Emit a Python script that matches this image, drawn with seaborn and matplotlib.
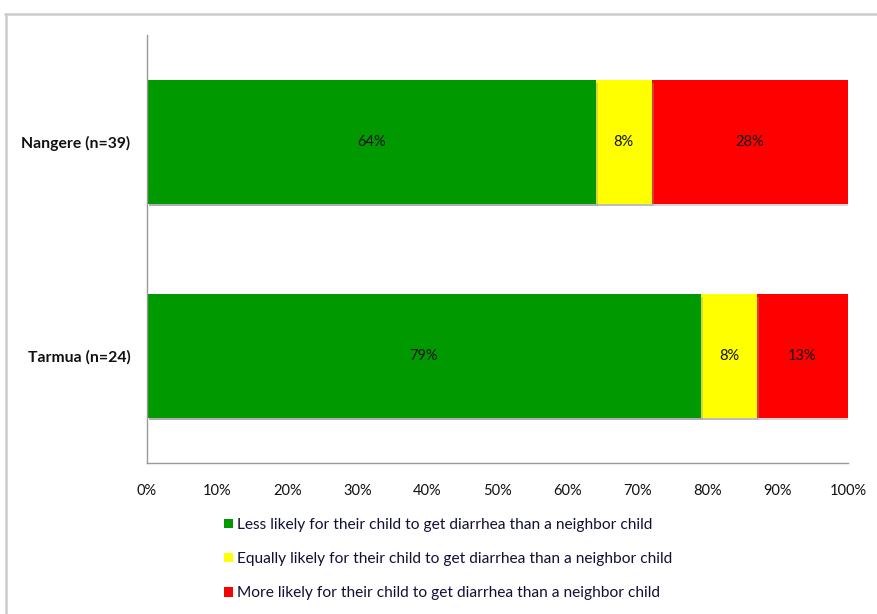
import matplotlib
matplotlib.use("Agg")
import matplotlib.pyplot as plt
from matplotlib.patches import Patch
from matplotlib.lines import Line2D
import matplotlib.patheffects as pe
import numpy as np
import pandas as pd
import seaborn as sns

sites = ["Nangere (n=39)", "Tarmua (n=24)"]
less_likely = [64, 79]
equally_likely = [8, 8]
more_likely = [28, 13]
series_names = [
    "Less likely for their child to get diarrhea than a neighbor child",
    "Equally likely for their child to get diarrhea than a neighbor child",
    "More likely for their child to get diarrhea than a neighbor child",
]
series_colors = ["#009900", "#FFFF00", "#FF0000"]
xtick_labels = ["0%", "10%", "20%", "30%", "40%", "50%", "60%", "70%", "80%", "90%", "100%"]

sns.set_theme(style="white")
plt.rcParams["font.family"] = ["Lato", "DejaVu Sans"]

fig = plt.figure(figsize=(8.77, 6.14), dpi=100)
ax = fig.add_axes([147 / 877, 1 - 463 / 614, (848 - 147) / 877, (463 - 35) / 614])

values = np.array([less_likely, equally_likely, more_likely], dtype=float)
cum = np.cumsum(values, axis=0)
starts = cum - values

shadow = [pe.SimplePatchShadow(offset=(1.5, -1.5), shadow_rgbFace="#999999", alpha=0.4), pe.Normal()]

# stacked bars: draw cumulative totals from the outermost segment inwards
for i in reversed(range(len(series_names))):
    df = pd.DataFrame({"site": sites, "value": cum[i]})
    sns.barplot(data=df, x="value", y="site", orient="h", color=series_colors[i],
                width=0.575, saturation=1, ax=ax, edgecolor="none")

for bar in ax.patches:
    bar.set_path_effects(shadow)

# segment labels
for i in range(len(series_names)):
    for j in range(len(sites)):
        ax.text(starts[i, j] + values[i, j] / 2, j, f"{values[i, j]:.0f}%",
                ha="center", va="center", fontsize=10.5, color="#111111")

ax.set_xlim(0, 100)
ax.set_ylim(1.5, -0.5)
ax.set_xticks(np.arange(0, 101, 10))
ax.set_xticklabels(xtick_labels)
ax.set_xlabel("")
ax.set_ylabel("")
ax.tick_params(axis="x", length=0, pad=15, labelsize=10.5, labelcolor="#111111")
ax.tick_params(axis="y", length=0, pad=12, labelsize=11.3, labelcolor="#111111")
for lbl in ax.get_yticklabels():
    lbl.set_fontweight("bold")

for side in ["top", "right"]:
    ax.spines[side].set_visible(False)
for side in ["left", "bottom"]:
    ax.spines[side].set_color("#999999")
    ax.spines[side].set_linewidth(1.0)

handles = [Patch(facecolor=c, edgecolor="none") for c in series_colors]
fig.legend(handles, series_names, loc="upper left",
           bbox_to_anchor=(224 / 877, 1 - 518 / 614), frameon=False,
           fontsize=11.2, handlelength=0.55, handleheight=0.55, handletextpad=0.3,
           labelspacing=1.3, labelcolor="#111133", borderaxespad=0, borderpad=0)

# sheet frame lines
fig.add_artist(Line2D([5 / 877, 1], [1 - 13.5 / 614, 1 - 13.5 / 614],
                      transform=fig.transFigure, color="#cccccc", lw=1.8))
fig.add_artist(Line2D([5.5 / 877, 5.5 / 877], [0, 1 - 13.5 / 614],
                      transform=fig.transFigure, color="#cccccc", lw=1.8))

fig.savefig("out.png", dpi=100)
